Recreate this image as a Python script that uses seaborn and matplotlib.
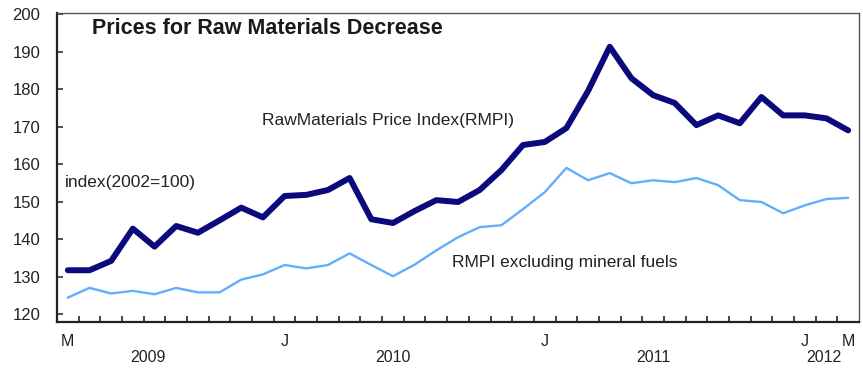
import matplotlib
matplotlib.use("Agg")
import matplotlib.pyplot as plt
import matplotlib.transforms as mtransforms
import seaborn as sns
import pandas as pd
import numpy as np

# ---- data (monthly, March 2009 .. March 2012) ----
months = ["2009-03", "2009-04", "2009-05", "2009-06", "2009-07", "2009-08", "2009-09",
          "2009-10", "2009-11", "2009-12", "2010-01", "2010-02", "2010-03", "2010-04",
          "2010-05", "2010-06", "2010-07", "2010-08", "2010-09", "2010-10", "2010-11",
          "2010-12", "2011-01", "2011-02", "2011-03", "2011-04", "2011-05", "2011-06",
          "2011-07", "2011-08", "2011-09", "2011-10", "2011-11", "2011-12", "2012-01",
          "2012-02", "2012-03"]
rmpi = [131.7, 131.7, 134.2, 142.8, 138.0, 143.5, 141.7, 145.0, 148.4, 145.8,
        151.5, 151.8, 153.1, 156.3, 145.3, 144.3, 147.5, 150.4, 149.9, 153.1,
        158.4, 165.1, 165.9, 169.6, 179.5, 191.3, 182.9, 178.4, 176.3, 170.4,
        173.0, 170.9, 177.9, 173.0, 173.0, 172.2, 169.0]
rmpi_ex_fuels = [124.4, 127.0, 125.5, 126.2, 125.3, 127.0, 125.8, 125.8, 129.2, 130.6,
                 133.1, 132.2, 133.1, 136.2, 133.1, 130.1, 133.2, 137.0, 140.5, 143.2,
                 143.7, 148.0, 152.5, 159.0, 155.7, 157.6, 154.9, 155.7, 155.2, 156.3,
                 154.4, 150.4, 149.9, 146.9, 149.0, 150.7, 151.0]
month_labels = {0: "M", 10: "J", 22: "J", 34: "J", 36: "M"}
year_labels = {"2009": 3.7, "2010": 15.0, "2011": 27.0, "2012": 34.9}
yticks = [120, 130, 140, 150, 160, 170, 180, 190, 200]

df = pd.DataFrame({"idx": np.arange(len(months)), "month": months,
                   "RMPI": rmpi, "RMPI excl": rmpi_ex_fuels})

sns.set_style("white")
plt.rcParams["font.family"] = ["Liberation Sans", "DejaVu Sans"]

fig = plt.figure(figsize=(8.63, 3.69), dpi=100)
ax = fig.add_axes([57 / 863, 1 - 322 / 369, (859 - 57) / 863, (322 - 13) / 369])

navy = "#0a0a7c"
light = "#62aefc"
sns.lineplot(data=df, x="idx", y="RMPI excl", ax=ax, color=light, linewidth=1.7)
sns.lineplot(data=df, x="idx", y="RMPI", ax=ax, color=navy, linewidth=4.3)

ax.set_xlim(-0.5, len(months) - 0.5)
ax.set_ylim(117.9, 200.3)
ax.set_xlabel("")
ax.set_ylabel("")

txt = "#222222"
# y ticks
ax.set_yticks(yticks)
ax.set_yticklabels([str(v) for v in yticks], fontsize=12, color=txt)
ax.tick_params(axis="y", direction="in", length=4, width=1.2, color="#333333", pad=12,
               left=True)

# x ticks: boundary ticks (minor), month labels (major, no tick line)
ax.set_xticks(list(month_labels.keys()))
ax.set_xticklabels(list(month_labels.values()), fontsize=11.5, color=txt)
ax.tick_params(axis="x", which="major", length=0, pad=9)
ax.set_xticks(np.arange(0.5, len(months) - 0.5, 1.0), minor=True)
ax.tick_params(axis="x", which="minor", direction="in", length=4, width=1.2,
               color="#222222", bottom=True)

# spines
for s in ["left", "bottom"]:
    ax.spines[s].set_color("#222222")
    ax.spines[s].set_linewidth(1.6)
for s in ["top", "right"]:
    ax.spines[s].set_color("#555555")
    ax.spines[s].set_linewidth(1.0)

# year labels
trans = mtransforms.blended_transform_factory(ax.transData, fig.transFigure)
for yr, pos in year_labels.items():
    ax.text(pos, 1 - 357.5 / 369, yr, transform=trans, ha="center", va="center",
            fontsize=11.5, color=txt)

# annotations
ax.text(92 / 863, 1 - 28 / 369, "Prices for Raw Materials Decrease",
        transform=fig.transFigure, fontsize=15.5, fontweight="bold",
        color="#1a1a1a", ha="left", va="center")
ax.text(262 / 863, 1 - 120 / 369, "RawMaterials Price Index(RMPI)",
        transform=fig.transFigure, fontsize=12.5, color=txt, ha="left", va="center")
ax.text(65 / 863, 1 - 183 / 369, "index(2002=100)",
        transform=fig.transFigure, fontsize=12.5, color=txt, ha="left", va="center")
ax.text(452 / 863, 1 - 263 / 369, "RMPI excluding mineral fuels",
        transform=fig.transFigure, fontsize=12.5, color=txt, ha="left", va="center")

fig.savefig("out.png", dpi=100)
